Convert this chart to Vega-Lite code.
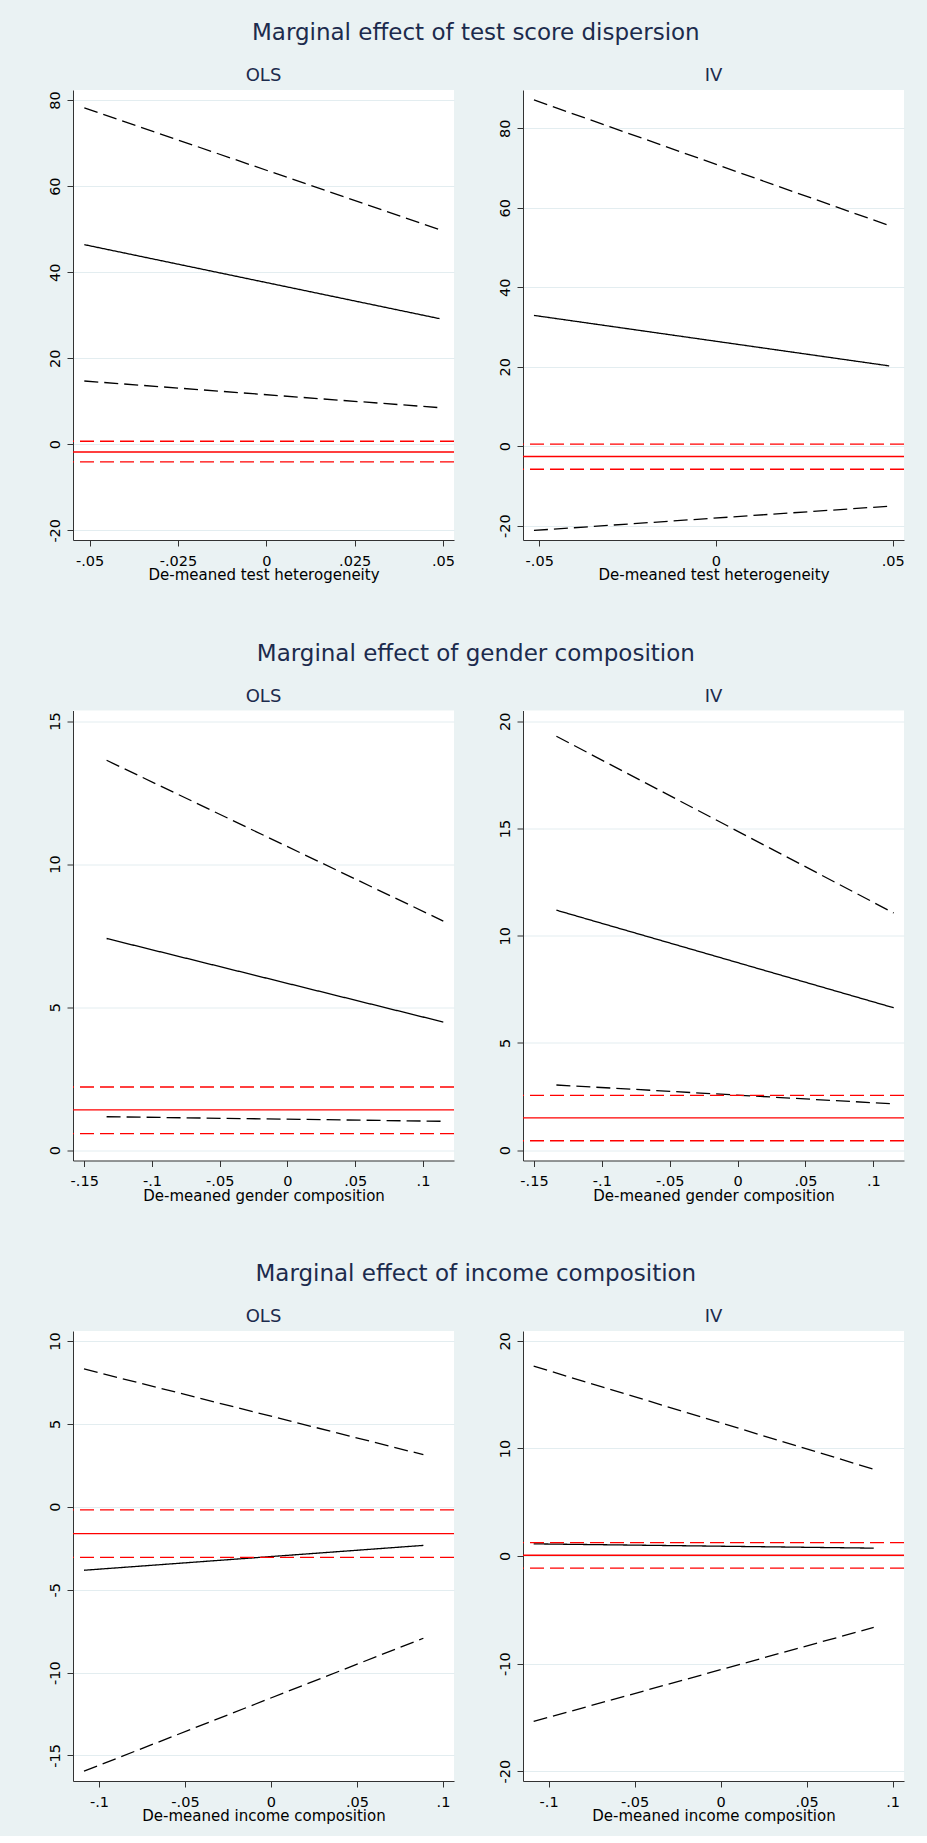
{
  "$schema": "https://vega.github.io/schema/vega-lite/v6.json",
  "padding": {"left": 46, "top": 22, "right": 22, "bottom": 12},
  "datasets": {
    "lines": [
      {"panel": "disp_ols", "series": "hi", "x": -0.0515, "y": 78.2},
      {"panel": "disp_ols", "series": "hi", "x": 0.049, "y": 49.9},
      {"panel": "disp_ols", "series": "est", "x": -0.0515, "y": 46.4},
      {"panel": "disp_ols", "series": "est", "x": 0.049, "y": 29.2},
      {"panel": "disp_ols", "series": "lo", "x": -0.0515, "y": 14.7},
      {"panel": "disp_ols", "series": "lo", "x": 0.049, "y": 8.5},
      {"panel": "disp_iv", "series": "hi", "x": -0.0515, "y": 87.1},
      {"panel": "disp_iv", "series": "hi", "x": 0.049, "y": 55.5},
      {"panel": "disp_iv", "series": "est", "x": -0.0515, "y": 32.9},
      {"panel": "disp_iv", "series": "est", "x": 0.049, "y": 20.2},
      {"panel": "disp_iv", "series": "lo", "x": -0.0515, "y": -21.2},
      {"panel": "disp_iv", "series": "lo", "x": 0.049, "y": -15.1},
      {"panel": "gend_ols", "series": "hi", "x": -0.1335, "y": 13.63},
      {"panel": "gend_ols", "series": "hi", "x": 0.115, "y": 8.01},
      {"panel": "gend_ols", "series": "est", "x": -0.1335, "y": 7.4},
      {"panel": "gend_ols", "series": "est", "x": 0.115, "y": 4.48},
      {"panel": "gend_ols", "series": "lo", "x": -0.1335, "y": 1.17},
      {"panel": "gend_ols", "series": "lo", "x": 0.115, "y": 1.01},
      {"panel": "gend_iv", "series": "hi", "x": -0.1335, "y": 19.3},
      {"panel": "gend_iv", "series": "hi", "x": 0.115, "y": 11.06},
      {"panel": "gend_iv", "series": "est", "x": -0.1335, "y": 11.19},
      {"panel": "gend_iv", "series": "est", "x": 0.115, "y": 6.64},
      {"panel": "gend_iv", "series": "lo", "x": -0.1335, "y": 3.04},
      {"panel": "gend_iv", "series": "lo", "x": 0.115, "y": 2.16},
      {"panel": "inc_ols", "series": "hi", "x": -0.1087, "y": 8.31},
      {"panel": "inc_ols", "series": "hi", "x": 0.0886, "y": 3.14},
      {"panel": "inc_ols", "series": "est", "x": -0.1087, "y": -3.83},
      {"panel": "inc_ols", "series": "est", "x": 0.0886, "y": -2.33},
      {"panel": "inc_ols", "series": "lo", "x": -0.1087, "y": -15.95},
      {"panel": "inc_ols", "series": "lo", "x": 0.0886, "y": -7.93},
      {"panel": "inc_iv", "series": "hi", "x": -0.1087, "y": 17.65},
      {"panel": "inc_iv", "series": "hi", "x": 0.089, "y": 8.07},
      {"panel": "inc_iv", "series": "est", "x": -0.1087, "y": 1.13},
      {"panel": "inc_iv", "series": "est", "x": 0.089, "y": 0.73},
      {"panel": "inc_iv", "series": "lo", "x": -0.1087, "y": -15.38},
      {"panel": "inc_iv", "series": "lo", "x": 0.089, "y": -6.64}
    ],
    "refs": [
      {"panel": "disp_ols", "series": "hi", "y": 0.7},
      {"panel": "disp_ols", "series": "est", "y": -1.8},
      {"panel": "disp_ols", "series": "lo", "y": -4.1},
      {"panel": "disp_iv", "series": "hi", "y": 0.5},
      {"panel": "disp_iv", "series": "est", "y": -2.6},
      {"panel": "disp_iv", "series": "lo", "y": -5.8},
      {"panel": "gend_ols", "series": "hi", "y": 2.21},
      {"panel": "gend_ols", "series": "est", "y": 1.41},
      {"panel": "gend_ols", "series": "lo", "y": 0.58},
      {"panel": "gend_iv", "series": "hi", "y": 2.56},
      {"panel": "gend_iv", "series": "est", "y": 1.51},
      {"panel": "gend_iv", "series": "lo", "y": 0.44},
      {"panel": "inc_ols", "series": "hi", "y": -0.19},
      {"panel": "inc_ols", "series": "est", "y": -1.62},
      {"panel": "inc_ols", "series": "lo", "y": -3.05},
      {"panel": "inc_iv", "series": "hi", "y": 1.24},
      {"panel": "inc_iv", "series": "est", "y": 0.07},
      {"panel": "inc_iv", "series": "lo", "y": -1.13}
    ]
  },
  "spacing": 59.5,
  "vconcat": [
    {
      "title": {"text": "Marginal effect of test score dispersion", "fontSize": 23, "offset": 22},
      "spacing": 69,
      "bounds": "flush",
      "hconcat": [
        {
          "title": {"text": "OLS"},
          "width": 381, "height": 450,
          "layer": [
            {
              "data": {"name": "lines"},
              "transform": [{"filter": "datum.panel == 'disp_ols'"}],
              "mark": {"type": "line", "color": "black", "strokeWidth": 1.3},
              "encoding": {
                "x": {"field": "x", "type": "quantitative", "title": "De-meaned test heterogeneity",
                      "scale": {"domain": [-0.0547, 0.0531], "nice": false, "zero": false},
                      "axis": {"values": [-0.05, -0.025, 0, 0.025, 0.05]}},
                "y": {"field": "y", "type": "quantitative", "title": null,
                      "scale": {"domain": [-22.26, 82.35], "nice": false, "zero": false},
                      "axis": {"values": [-20, 0, 20, 40, 60, 80]}},
                "strokeDash": {"field": "series", "type": "nominal", "legend": null,
                               "scale": {"domain": ["est", "lo", "hi"], "range": [[1, 0], [14, 6], [14, 6]]}}
              }
            },
            {
              "data": {"name": "refs"},
              "transform": [{"filter": "datum.panel == 'disp_ols'"}],
              "mark": {"type": "rule", "color": "#ff0000", "strokeWidth": 1.3},
              "encoding": {
                "y": {"field": "y", "type": "quantitative", "title": null},
                "strokeDash": {"field": "series", "type": "nominal", "legend": null}
              }
            }
          ]
        },
        {
          "title": {"text": "IV"},
          "width": 381, "height": 450,
          "layer": [
            {
              "data": {"name": "lines"},
              "transform": [{"filter": "datum.panel == 'disp_iv'"}],
              "mark": {"type": "line", "color": "black", "strokeWidth": 1.3},
              "encoding": {
                "x": {"field": "x", "type": "quantitative", "title": "De-meaned test heterogeneity",
                      "scale": {"domain": [-0.0546, 0.0532], "nice": false, "zero": false},
                      "axis": {"values": [-0.05, 0, 0.05]}},
                "y": {"field": "y", "type": "quantitative", "title": null,
                      "scale": {"domain": [-23.6, 89.6], "nice": false, "zero": false},
                      "axis": {"values": [-20, 0, 20, 40, 60, 80]}},
                "strokeDash": {"field": "series", "type": "nominal", "legend": null,
                               "scale": {"domain": ["est", "lo", "hi"], "range": [[1, 0], [14, 6], [14, 6]]}}
              }
            },
            {
              "data": {"name": "refs"},
              "transform": [{"filter": "datum.panel == 'disp_iv'"}],
              "mark": {"type": "rule", "color": "#ff0000", "strokeWidth": 1.3},
              "encoding": {
                "y": {"field": "y", "type": "quantitative", "title": null},
                "strokeDash": {"field": "series", "type": "nominal", "legend": null}
              }
            }
          ]
        }
      ]
    },
    {
      "title": {"text": "Marginal effect of gender composition", "fontSize": 23, "offset": 22},
      "spacing": 69,
      "bounds": "flush",
      "hconcat": [
        {
          "title": {"text": "OLS"},
          "width": 381, "height": 450,
          "layer": [
            {
              "data": {"name": "lines"},
              "transform": [{"filter": "datum.panel == 'gend_ols'"}],
              "mark": {"type": "line", "color": "black", "strokeWidth": 1.3},
              "encoding": {
                "x": {"field": "x", "type": "quantitative", "title": "De-meaned gender composition",
                      "scale": {"domain": [-0.1583, 0.1229], "nice": false, "zero": false},
                      "axis": {"values": [-0.15, -0.1, -0.05, 0, 0.05, 0.1]}},
                "y": {"field": "y", "type": "quantitative", "title": null,
                      "scale": {"domain": [-0.36, 15.37], "nice": false, "zero": false},
                      "axis": {"values": [0, 5, 10, 15]}},
                "strokeDash": {"field": "series", "type": "nominal", "legend": null,
                               "scale": {"domain": ["est", "lo", "hi"], "range": [[1, 0], [14, 6], [14, 6]]}}
              }
            },
            {
              "data": {"name": "refs"},
              "transform": [{"filter": "datum.panel == 'gend_ols'"}],
              "mark": {"type": "rule", "color": "#ff0000", "strokeWidth": 1.3},
              "encoding": {
                "y": {"field": "y", "type": "quantitative", "title": null},
                "strokeDash": {"field": "series", "type": "nominal", "legend": null}
              }
            }
          ]
        },
        {
          "title": {"text": "IV"},
          "width": 381, "height": 450,
          "layer": [
            {
              "data": {"name": "lines"},
              "transform": [{"filter": "datum.panel == 'gend_iv'"}],
              "mark": {"type": "line", "color": "black", "strokeWidth": 1.3},
              "encoding": {
                "x": {"field": "x", "type": "quantitative", "title": "De-meaned gender composition",
                      "scale": {"domain": [-0.1581, 0.1226], "nice": false, "zero": false},
                      "axis": {"values": [-0.15, -0.1, -0.05, 0, 0.05, 0.1]}},
                "y": {"field": "y", "type": "quantitative", "title": null,
                      "scale": {"domain": [-0.48, 20.5], "nice": false, "zero": false},
                      "axis": {"values": [0, 5, 10, 15, 20]}},
                "strokeDash": {"field": "series", "type": "nominal", "legend": null,
                               "scale": {"domain": ["est", "lo", "hi"], "range": [[1, 0], [14, 6], [14, 6]]}}
              }
            },
            {
              "data": {"name": "refs"},
              "transform": [{"filter": "datum.panel == 'gend_iv'"}],
              "mark": {"type": "rule", "color": "#ff0000", "strokeWidth": 1.3},
              "encoding": {
                "y": {"field": "y", "type": "quantitative", "title": null},
                "strokeDash": {"field": "series", "type": "nominal", "legend": null}
              }
            }
          ]
        }
      ]
    },
    {
      "title": {"text": "Marginal effect of income composition", "fontSize": 23, "offset": 22},
      "spacing": 69,
      "bounds": "flush",
      "hconcat": [
        {
          "title": {"text": "OLS"},
          "width": 381, "height": 450,
          "layer": [
            {
              "data": {"name": "lines"},
              "transform": [{"filter": "datum.panel == 'inc_ols'"}],
              "mark": {"type": "line", "color": "black", "strokeWidth": 1.3},
              "encoding": {
                "x": {"field": "x", "type": "quantitative", "title": "De-meaned income composition",
                      "scale": {"domain": [-0.1151, 0.1064], "nice": false, "zero": false},
                      "axis": {"values": [-0.1, -0.05, 0, 0.05, 0.1]}},
                "y": {"field": "y", "type": "quantitative", "title": null,
                      "scale": {"domain": [-16.54, 10.6], "nice": false, "zero": false},
                      "axis": {"values": [-15, -10, -5, 0, 5, 10]}},
                "strokeDash": {"field": "series", "type": "nominal", "legend": null,
                               "scale": {"domain": ["est", "lo", "hi"], "range": [[1, 0], [14, 6], [14, 6]]}}
              }
            },
            {
              "data": {"name": "refs"},
              "transform": [{"filter": "datum.panel == 'inc_ols'"}],
              "mark": {"type": "rule", "color": "#ff0000", "strokeWidth": 1.3},
              "encoding": {
                "y": {"field": "y", "type": "quantitative", "title": null},
                "strokeDash": {"field": "series", "type": "nominal", "legend": null}
              }
            }
          ]
        },
        {
          "title": {"text": "IV"},
          "width": 381, "height": 450,
          "layer": [
            {
              "data": {"name": "lines"},
              "transform": [{"filter": "datum.panel == 'inc_iv'"}],
              "mark": {"type": "line", "color": "black", "strokeWidth": 1.3},
              "encoding": {
                "x": {"field": "x", "type": "quantitative", "title": "De-meaned income composition",
                      "scale": {"domain": [-0.1149, 0.1066], "nice": false, "zero": false},
                      "axis": {"values": [-0.1, -0.05, 0, 0.05, 0.1]}},
                "y": {"field": "y", "type": "quantitative", "title": null,
                      "scale": {"domain": [-20.92, 20.92], "nice": false, "zero": false},
                      "axis": {"values": [-20, -10, 0, 10, 20]}},
                "strokeDash": {"field": "series", "type": "nominal", "legend": null,
                               "scale": {"domain": ["est", "lo", "hi"], "range": [[1, 0], [14, 6], [14, 6]]}}
              }
            },
            {
              "data": {"name": "refs"},
              "transform": [{"filter": "datum.panel == 'inc_iv'"}],
              "mark": {"type": "rule", "color": "#ff0000", "strokeWidth": 1.3},
              "encoding": {
                "y": {"field": "y", "type": "quantitative", "title": null},
                "strokeDash": {"field": "series", "type": "nominal", "legend": null}
              }
            }
          ]
        }
      ]
    }
  ],
  "config": {
    "background": "#eaf2f3",
    "font": "DejaVu Sans",
    "view": {"stroke": null, "fill": "white"},
    "title": {"fontSize": 18, "fontWeight": "normal", "color": "#1c2b4d", "offset": 5, "anchor": "middle"},
    "concat": {"spacing": 69},
    "axis": {
      "domainColor": "#333333", "tickColor": "#333333", "tickSize": 6,
      "labelColor": "black", "labelFontSize": 14.5, "labelFlush": false, "labelOverlap": false,
      "labelExpr": "replace(toString(datum.value), '0.', '.')",
      "titleColor": "black", "titleFontSize": 15, "titleFontWeight": "normal",
      "gridColor": "#e3edf0", "gridWidth": 1
    },
    "axisX": {"grid": false, "labelPadding": 8, "titlePadding": 0},
    "axisY": {"grid": true, "labelAngle": -90, "labelAlign": "center", "labelBaseline": "bottom", "labelPadding": 5}
  }
}
